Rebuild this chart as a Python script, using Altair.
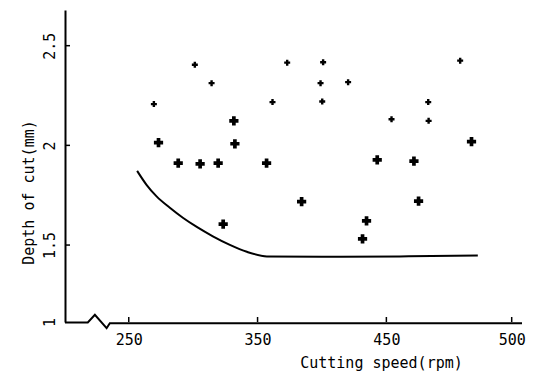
import altair as alt
import pandas as pd

# Measured points (small plus markers)
speed_small = [301.3, 314.3, 269.5, 373.0, 400.9, 398.9, 420.3, 361.6, 400.2, 454.0, 507.3, 482.5, 482.8]
depth_small = [2.404, 2.312, 2.207, 2.415, 2.417, 2.312, 2.317, 2.217, 2.220, 2.131, 2.425, 2.217, 2.123]
# Measured points (large plus markers)
speed_large = [331.6, 273.1, 332.4, 288.4, 305.4, 319.4, 357.0, 323.3, 442.9, 384.2, 434.6, 431.5, 516.1, 471.4, 475.0]
depth_large = [2.123, 2.014, 2.008, 1.911, 1.907, 1.911, 1.911, 1.605, 1.927, 1.718, 1.621, 1.531, 2.019, 1.921, 1.720]
# Boundary curve
curve_speed = [256.5, 263.8, 271.6, 281.9, 292.0, 302.8, 315.3, 328.5, 341.7, 357.2, 400.0, 460.5, 521.0]
curve_depth = [1.872, 1.802, 1.744, 1.687, 1.637, 1.591, 1.544, 1.501, 1.466, 1.443, 1.441, 1.443, 1.447]
# x axis line with break symbol
axis_speed = [200.5, 218.2, 223.7, 232.8, 235.3, 555.3]
axis_depth = [1.112, 1.112, 1.150, 1.083, 1.108, 1.108]
# Ticks and labels
x_tick_values = [250, 350, 450, 547.3]
x_tick_labels = ["250", "350", "450", "500"]
y_tick_values = [1.5, 2.0, 2.5]
y_label_values = [1.114, 1.5, 2.0, 2.5]
y_tick_labels = ["1", "1.5", "2", "2.5"]

X_DOMAIN = [200.5, 555.3]
Y_DOMAIN = [1.114, 2.679]
W, H = 457, 312
FONT = "DejaVu Sans Mono"

pts = pd.DataFrame(
    {"speed": speed_small + speed_large,
     "depth": depth_small + depth_large,
     "kind": ["small"] * len(speed_small) + ["large"] * len(speed_large)}
)
curve = pd.DataFrame({"speed": curve_speed, "depth": curve_depth, "o": range(len(curve_speed))})
axis_line = pd.DataFrame({"speed": axis_speed, "depth": axis_depth, "o": range(len(axis_speed))})
xt = pd.DataFrame({"speed": x_tick_values})
yt = pd.DataFrame({"depth": y_tick_values})

xs = alt.Scale(domain=X_DOMAIN, nice=False, zero=False)
ys = alt.Scale(domain=Y_DOMAIN, nice=False, zero=False)

x_lab_expr = " : ".join(
    [f"abs(datum.value - {v}) < 0.01 ? '{l}'" for v, l in zip(x_tick_values, x_tick_labels)]
) + " : ''"
y_lab_expr = " : ".join(
    [f"abs(datum.value - {v}) < 0.001 ? '{l}'" for v, l in zip(y_label_values, y_tick_labels)]
) + " : ''"

x_axis = alt.Axis(values=x_tick_values, labelExpr=x_lab_expr, domain=False, ticks=False,
                  grid=False, labelFont=FONT, labelFontSize=15, labelColor="black",
                  labelPadding=10, labelFlush=False,
                  title="Cutting speed(rpm)", titleFont=FONT, titleFontSize=15,
                  titleFontWeight="normal", titleColor="black",
                  titleX=316, titleY=40, titleBaseline="middle", titleAlign="center")
y_axis = alt.Axis(values=y_label_values, labelExpr=y_lab_expr, domain=True, domainColor="black",
                  domainWidth=2, ticks=False, grid=False, labelFont=FONT, labelFontSize=15,
                  labelColor="black", labelAngle=270, labelPadding=8, labelFlush=False,
                  title="Depth of cut(mm)", titleFont=FONT, titleFontSize=15,
                  titleFontWeight="normal", titleColor="black",
                  titleX=-37, titleY=182, titleBaseline="middle", titleAlign="center")

X = alt.X("speed:Q", scale=xs, axis=x_axis)
Y = alt.Y("depth:Q", scale=ys, axis=y_axis)

points = alt.Chart(pts).mark_point(shape="cross", filled=True, color="black", opacity=1).encode(
    x=X, y=Y,
    size=alt.Size("kind:N", scale=alt.Scale(domain=["small", "large"], range=[36, 85]), legend=None),
)

curve_line = alt.Chart(curve).mark_line(color="black", strokeWidth=2, interpolate="monotone").encode(
    x=X, y=Y, order="o:Q",
)

x_axis_line = alt.Chart(axis_line).mark_line(color="black", strokeWidth=2).encode(
    x=X, y=Y, order="o:Q",
)

x_ticks = alt.Chart(xt).mark_rule(color="black", strokeWidth=1.5).encode(
    x=X, y=alt.value(H), y2=alt.value(H - 5),
)

y_ticks = alt.Chart(yt).mark_rule(color="black", strokeWidth=1.5).encode(
    y=Y, x=alt.value(0), x2=alt.value(5),
)

chart = alt.layer(points, curve_line, x_axis_line, x_ticks, y_ticks).properties(
    width=W, height=H,
    autosize=alt.AutoSizeParams(type="none"),
    padding={"left": 57, "top": 2, "right": 6, "bottom": 49},
    background="white",
).configure_view(stroke=None)

chart.save("out.html", embed_options={"renderer": "svg", "actions": False})
